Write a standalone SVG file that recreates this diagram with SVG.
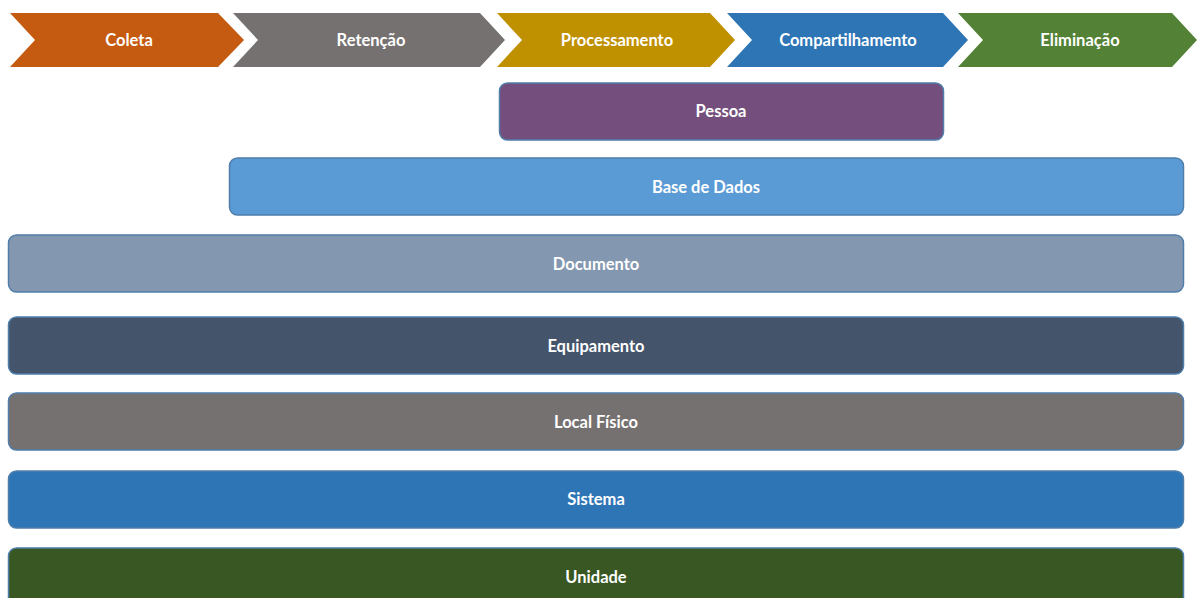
<svg xmlns="http://www.w3.org/2000/svg" width="1198" height="598" viewBox="0 0 1198 598">
<style>
text{font-family:Lato,"Open Sans","Liberation Sans",sans-serif;font-weight:bold;font-size:16.5px;fill:#ffffff;text-anchor:middle;dominant-baseline:central}
.bar{stroke:#4f7eab;stroke-width:1.5}
</style>
<rect width="1198" height="598" fill="#ffffff"/>
<g id="stages">
<g id="coleta"><polygon points="10,13 218,13 244,40 218,67 10,67 35,40" fill="#c55a11"/><text x="129" y="40">Coleta</text></g>
<g id="retencao"><polygon points="233,13 480,13 505,40 480,67 233,67 258,40" fill="#767171"/><text x="371" y="40">Retenção</text></g>
<g id="processamento"><polygon points="497,13 710,13 735,40 710,67 497,67 522,40" fill="#bf9000"/><text x="617" y="40">Processamento</text></g>
<g id="compartilhamento"><polygon points="727,13 943,13 968,40 943,67 727,67 752,40" fill="#2e75b6"/><text x="848" y="40">Compartilhamento</text></g>
<g id="eliminacao"><polygon points="958,13 1172,13 1197,40 1172,67 958,67 983,40" fill="#538135"/><text x="1080" y="40">Eliminação</text></g>
</g>
<g id="pessoa"><rect class="bar" x="499.5" y="83" width="444" height="57" rx="8" fill="#744f7d"/><text x="721" y="111">Pessoa</text></g>
<g id="base-de-dados"><rect class="bar" x="229.5" y="158" width="954" height="57" rx="8" fill="#5b9bd5"/><text x="706" y="187">Base de Dados</text></g>
<g id="documento"><rect class="bar" x="8.5" y="235" width="1175" height="57" rx="8" fill="#8497b0"/><text x="596" y="264">Documento</text></g>
<g id="equipamento"><rect class="bar" x="8.5" y="317" width="1175" height="57" rx="8" fill="#44546a"/><text x="596" y="346">Equipamento</text></g>
<g id="local-fisico"><rect class="bar" x="8.5" y="393" width="1175" height="57" rx="8" fill="#767171"/><text x="596" y="422">Local Físico</text></g>
<g id="sistema"><rect class="bar" x="8.5" y="471" width="1175" height="57" rx="8" fill="#2e75b6"/><text x="596" y="499">Sistema</text></g>
<g id="unidade"><rect class="bar" x="8.5" y="548" width="1175" height="60" rx="8" fill="#385723"/><text x="596" y="577">Unidade</text></g>
<g id="connectors"></g>
</svg>
